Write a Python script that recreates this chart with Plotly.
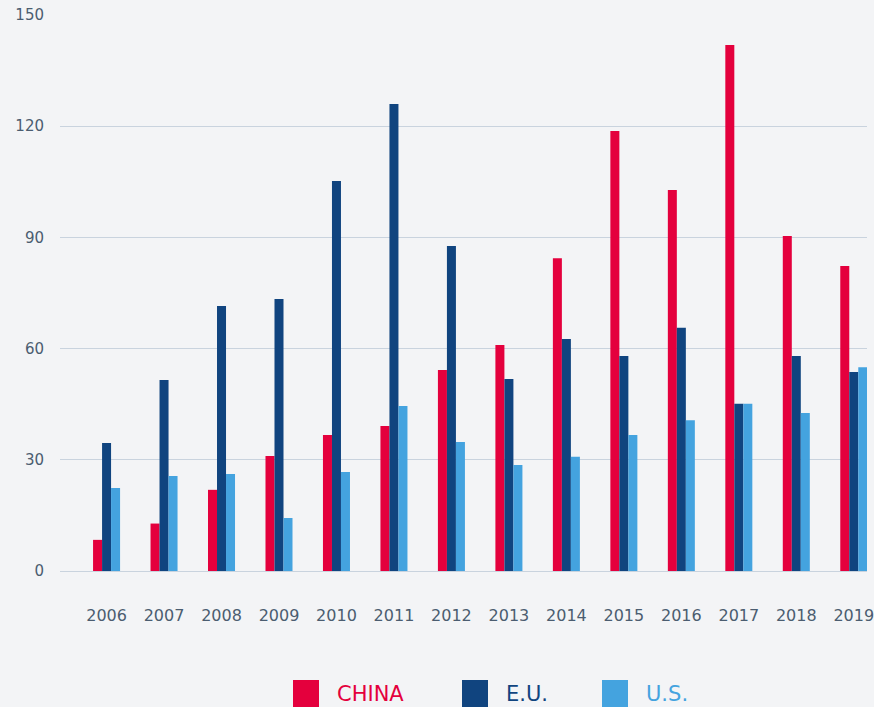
import plotly.graph_objects as go

years = ["2006", "2007", "2008", "2009", "2010", "2011", "2012",
         "2013", "2014", "2015", "2016", "2017", "2018", "2019"]
china = [8.4, 12.8, 21.9, 31.0, 36.7, 39.1, 54.2, 61.0, 84.4, 118.7, 102.8, 141.9, 90.4, 82.3]
eu = [34.5, 51.5, 71.5, 73.4, 105.2, 126.0, 87.7, 51.8, 62.6, 58.0, 65.6, 45.1, 58.0, 53.7]
us = [22.4, 25.6, 26.2, 14.3, 26.7, 44.5, 34.8, 28.6, 30.8, 36.7, 40.7, 45.1, 42.6, 55.0]

names = ["CHINA", "E.U.", "U.S."]
colors = ["#e4003d", "#10447f", "#44a3df"]
series = [china, eu, us]

W, H = 874, 707
L, R, T, B = 60, 7, 15, 136
pw, ph = W - L - R, H - T - B


def px_x(x):
    return (x - L) / pw


def px_y(y):
    return (H - B - y) / ph


fig = go.Figure()
for name, col, vals in zip(names, colors, series):
    fig.add_trace(go.Bar(x=years, y=vals, name=name, marker_color=col,
                         marker_line_width=0, cliponaxis=False, showlegend=False))

# custom legend (big square swatches)
legend_x = [293, 462, 602]
for name, col, x0 in zip(names, colors, legend_x):
    fig.add_shape(type="rect", xref="paper", yref="paper",
                  x0=px_x(x0), x1=px_x(x0 + 26), y0=px_y(707), y1=px_y(680),
                  fillcolor=col, line_width=0)
    fig.add_annotation(xref="paper", yref="paper", x=px_x(x0 + 42), y=px_y(694),
                       text=name, showarrow=False, xanchor="left", yanchor="middle",
                       font=dict(family="DejaVu Sans", size=21, color=col))

fig.update_layout(
    width=W, height=H,
    margin=dict(l=L, r=R, t=T, b=B),
    paper_bgcolor="#f3f4f6", plot_bgcolor="#f3f4f6",
    barmode="group", bargap=0.53, bargroupgap=0.0,
    font=dict(family="DejaVu Sans", color="#4b5d70", size=15),
)
fig.update_xaxes(range=[-0.81, 13.23], showgrid=False, zeroline=False, showline=False,
                 ticks="", ticklabelstandoff=33, tickfont=dict(size=16), automargin=False)
fig.update_yaxes(range=[0, 150], tickvals=[0, 30, 60, 90, 120, 150],
                 gridcolor="#c9d3de", gridwidth=1, zeroline=True, zerolinecolor="#c9d3de",
                 zerolinewidth=1, showline=False, ticks="", ticklabelstandoff=15,
                 tickfont=dict(size=15), automargin=False)

fig.write_html("out.html", config={"displayModeBar": False},
               post_script="document.body.style.margin='0';")
